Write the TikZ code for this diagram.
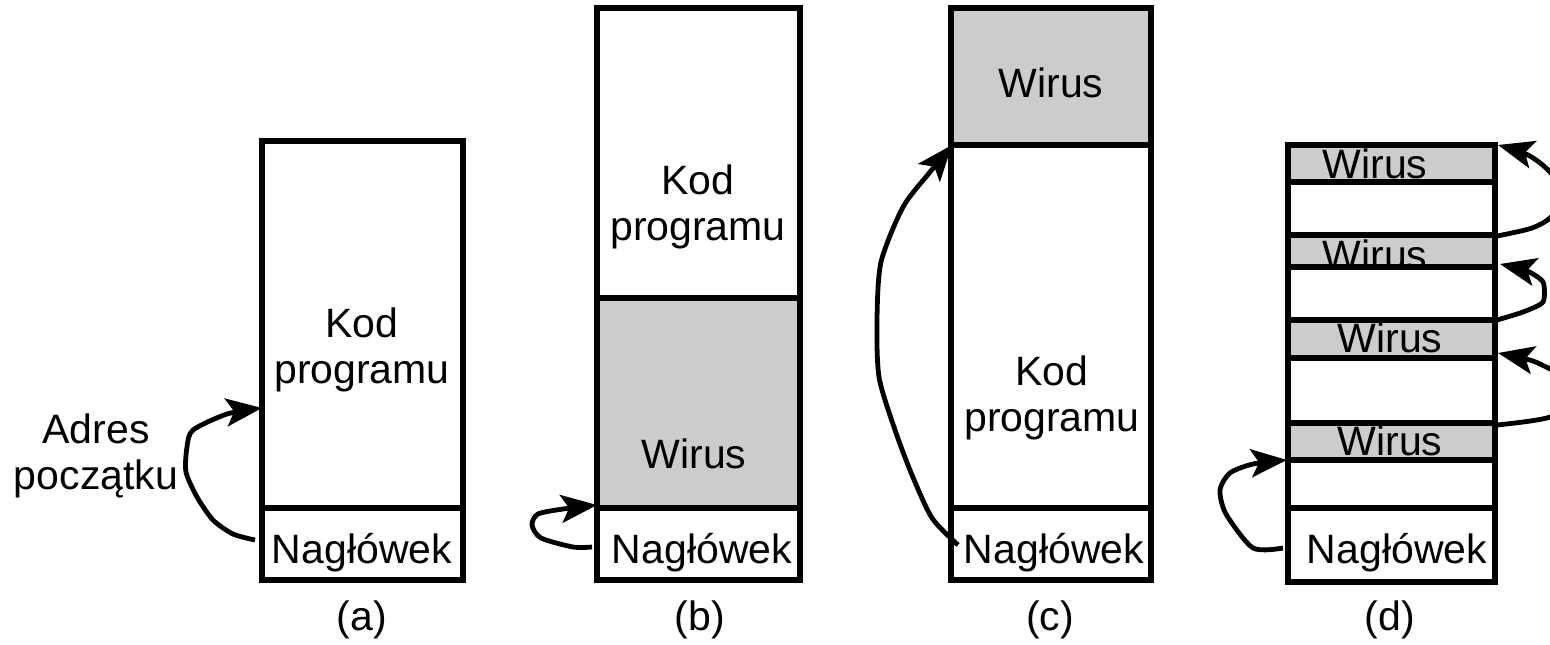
\documentclass[tikz,border=0pt]{standalone}
\usepackage{fontspec}
\setmainfont{Liberation Sans}
\usetikzlibrary{arrows.meta}
\definecolor{virusgray}{HTML}{CCCCCC}
\begin{document}
\begin{tikzpicture}[x=1pt,y=-1pt,
  boxline/.style={line width=5.5pt},
  virusband/.style={fill=virusgray},
  lbl/.style={font=\fontsize{41}{46}\selectfont, inner sep=0pt, align=center},
  arr/.style={line width=4.8pt, line join=round,
    -{Stealth[length=36pt,width=28pt,inset=8pt]}}]
\useasboundingbox (0,0) rectangle (1550,645);

% ---------------- (a) ----------------
\node[lbl] (akod) at (362,350) {Kod\\programu};
\node[lbl, anchor=base] (anag) at (362,563) {Nagłówek};
\node[lbl, anchor=base] (alab) at (362,630) {(a)};
\node[lbl] (adres) at (96,456) {Adres\\początku};
\draw[boxline] (262,508) -- (463,508);
\draw[boxline] (262,141) rectangle (463,580);
\coordinate (as) at (255,540);
\coordinate (ae) at (262,408);
\draw[arr] plot[smooth, tension=0.45] coordinates {(as) (233,534) (213,520) (197,497) (186,472) (187,447) (193,430) (227,414) (ae)};

% ---------------- (b) ----------------
\fill[virusband] (597,298) rectangle (800,508);
\node[lbl] (bkod) at (698,207) {Kod\\programu};
\node[lbl, anchor=base] (bwir) at (694,468) {Wirus};
\node[lbl, anchor=base] (bnag) at (702,563) {Nagłówek};
\node[lbl, anchor=base] (blab) at (700,630) {(b)};
\draw[boxline] (597,298) -- (800,298);
\draw[boxline] (597,508) -- (800,508);
\draw[boxline] (597,8) rectangle (800,580);
\coordinate (bs) at (592,547);
\coordinate (be) at (597,505);
\draw[arr] plot[smooth, tension=0.45] coordinates {(bs) (573,547) (541,538) (532,525) (538,514) (563,509) (be)};

% ---------------- (c) ----------------
\fill[virusband] (951,8) rectangle (1151,145);
\node[lbl, anchor=base] (cwir) at (1051,97) {Wirus};
\node[lbl] (ckod) at (1052,398) {Kod\\programu};
\node[lbl, anchor=base] (cnag) at (1054,563) {Nagłówek};
\node[lbl, anchor=base] (clab) at (1050,630) {(c)};
\draw[boxline] (951,145) -- (1151,145);
\draw[boxline] (951,508) -- (1151,508);
\draw[boxline] (951,8) rectangle (1151,580);
\coordinate (cs) at (958,545);
\coordinate (ce) at (952,145);
\draw[arr] plot[smooth, tension=0.45] coordinates {(cs) (932,518) (912,475) (895,430) (879,377) (877,319) (881,262) (903,207) (930,172) (ce)};

% ---------------- (d) ----------------
\fill[virusband] (1288,145) rectangle (1495,182);
\fill[virusband] (1288,235) rectangle (1495,267);
\fill[virusband] (1288,320) rectangle (1495,358);
\fill[virusband] (1288,423) rectangle (1495,460);
\node[lbl, anchor=base] (dw1) at (1375,178) {Wirus};
\node[lbl, anchor=base] (dw2) at (1375,269) {Wirus};
\node[lbl, anchor=base] (dw3) at (1390,352) {Wirus};
\node[lbl, anchor=base] (dw4) at (1390,455) {Wirus};
\node[lbl, anchor=base] (dnag) at (1397,563) {Nagłówek};
\node[lbl, anchor=base] (dlab) at (1390,630) {(d)};
\foreach \yy in {182,235,267,320,358,423,460,508}
  \draw[boxline] (1288,\yy) -- (1495,\yy);
\draw[boxline] (1288,145) rectangle (1495,582);
% left arrow: header -> fourth virus
\coordinate (d0s) at (1283,548);
\coordinate (d0e) at (1287,460);
\draw[arr] plot[smooth, tension=0.45] coordinates {(d0s) (1253,548) (1226,514) (1220,490) (1230,473) (1253,464) (d0e)};
% right arrows: chain of virus fragments
\coordinate (d1s) at (1497,236);
\coordinate (d1e) at (1498,145);
\draw[arr] plot[smooth, tension=0.5] coordinates {(d1s) (1532,228) (1552,216) (1562,194) (1550,172) (1528,155) (d1e)};
\coordinate (d2s) at (1497,320);
\coordinate (d2e) at (1500,264);
\draw[arr] plot[smooth, tension=0.4] coordinates {(d2s) (1523,312) (1543,302) (1543,282) (1527,271) (d2e)};
\coordinate (d3s) at (1497,425);
\coordinate (d3e) at (1498,353);
\draw[arr] plot[smooth, tension=0.5] coordinates {(d3s) (1550,417) (1566,398) (1562,377) (1540,364) (1526,359) (d3e)};
\end{tikzpicture}
\end{document}
